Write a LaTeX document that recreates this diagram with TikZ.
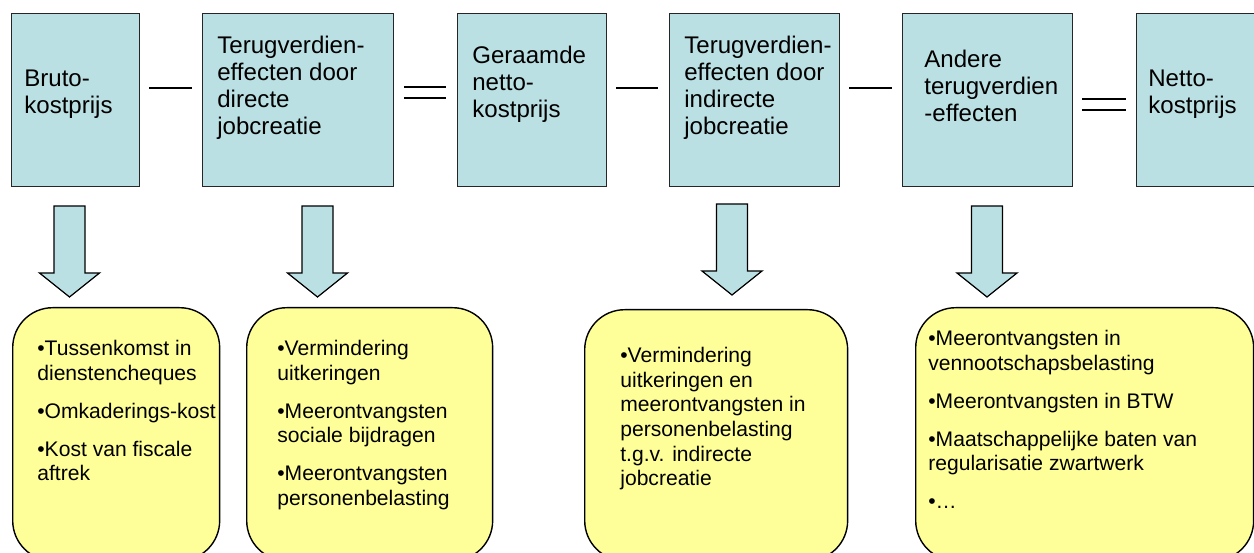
\documentclass[tikz,border=0pt]{standalone}
\usepackage{fontspec}
\setmainfont{Liberation Sans}
\usetikzlibrary{positioning, calc}
\definecolor{costblue}{RGB}{187,224,227}
\definecolor{noteyellow}{RGB}{255,255,153}

\begin{document}
\begin{tikzpicture}[
    x=0.02cm, y=-0.02cm,
    costbox/.style={
        draw=black!85, fill=costblue, line width=0.6pt,
        anchor=north west, minimum height=3.46cm, inner sep=0pt
    },
    costtext/.style={
        anchor=west, align=left, inner sep=0pt,
        font=\fontsize{13.7}{15.4}\selectfont
    },
    notebox/.style={
        draw=black, fill=noteyellow, line width=0.8pt,
        anchor=north west, rounded corners=0.8cm, inner sep=0pt
    },
    notetext/.style={
        anchor=north west, align=left, inner sep=0pt,
        font=\fontsize{12}{14}\selectfont
    },
    op/.style={draw=black, line width=0.8pt},
    downarrow/.style={draw=black, fill=costblue, line width=0.7pt}
]

% ---- Page frame: the slide is cut off at the right and at the bottom ----
\useasboundingbox (0,0) rectangle (1254,553);
\clip (0,0) rectangle (1254,553);

% ---- The cost chain (top row) ----
\node[costbox, minimum width=2.56cm] (bruto)    at (11,13)   {};
\node[costbox, minimum width=3.82cm] (direct)   at (202,13)  {};
\node[costbox, minimum width=2.98cm] (geraamd)  at (457,13)  {};
\node[costbox, minimum width=3.40cm] (indirect) at (669,13)  {};
\node[costbox, minimum width=3.40cm] (ander)    at (902,13)  {};
\node[costbox, minimum width=2.80cm] (netto)    at (1136,13) {};

\node[costtext] (bruto-t)    at (24,94)   {Bruto-\\kostprijs};
\node[costtext] (direct-t)   at (217,88)  {Terugverdien-\\effecten door\\directe\\jobcreatie};
\node[costtext] (geraamd-t)  at (472,84)  {Geraamde\\netto-\\kostprijs};
\node[costtext] (indirect-t) at (684,88)  {Terugverdien-\\effecten door\\indirecte\\jobcreatie};
\node[costtext] (ander-t)    at (924,86)  {Andere\\terugverdien\\-effecten};
\node[costtext] (netto-t)    at (1148,94) {Netto-\\kostprijs};

% ---- Minus and equals signs between the boxes ----
\draw[op] (149,88) -- (192,88);
\draw[op] (404,87) -- (446,87);
\draw[op] (404,98) -- (446,98);
\draw[op] (616,88) -- (658,88);
\draw[op] (849,88) -- (892,88);
\draw[op] (1082,99) -- (1126,99);
\draw[op] (1082,110) -- (1126,110);

% ---- Block arrows down to the details ----
\foreach \cx/\top in {69.5/206, 317.5/206, 732/204, 987/206}
    \draw[downarrow] (\cx-15.5,\top) -- (\cx+15.5,\top) -- (\cx+15.5,\top+67)
        -- (\cx+30,\top+67) -- (\cx,\top+91) -- (\cx-30,\top+67)
        -- (\cx-15.5,\top+67) -- cycle;

% ---- Details (bottom row) ----
\node[notebox, minimum width=4.14cm, minimum height=5.06cm] (tussen)  at (12,307)  {};
\node[notebox, minimum width=4.92cm, minimum height=5.06cm] (uitker)  at (246,307) {};
\node[notebox, minimum width=5.26cm, minimum height=5.02cm] (indir)   at (584,309) {};
\node[notebox, minimum width=6.76cm, minimum height=5.06cm] (overig)  at (915,307) {};

\node[notetext] (tussen-t) at (37,340)
     {•Tussenkomst in\\dienstencheques\\[7.6pt]
      •Omkaderings-kost\\[7.6pt]
      •Kost van fiscale\\aftrek};
\node[notetext] (uitker-t) at (277,340)
     {•Vermindering\\uitkeringen\\[7.6pt]
      •Meerontvangsten\\sociale bijdragen\\[7.6pt]
      •Meerontvangsten\\personenbelasting};
\node[notetext] (indir-t) at (620,347)
     {•Vermindering\\uitkeringen en\\meerontvangsten in\\personenbelasting\\t.g.v. indirecte\\jobcreatie};
\node[notetext] (overig-t) at (928,330)
     {•Meerontvangsten in\\vennootschapsbelasting\\[7.6pt]
      •Meerontvangsten in BTW\\[7.6pt]
      •Maatschappelijke baten van\\regularisatie zwartwerk\\[7.6pt]
      •…};

\end{tikzpicture}
\end{document}
